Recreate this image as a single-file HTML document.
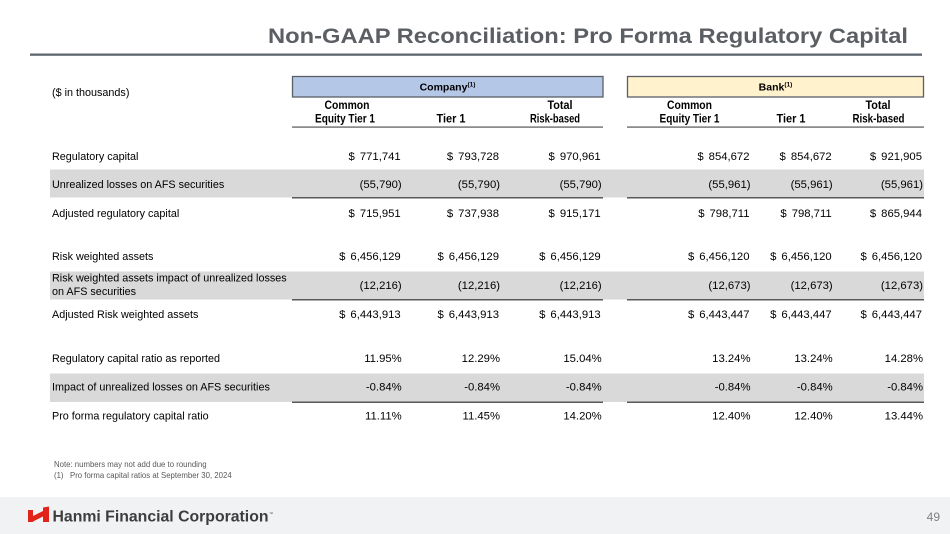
<!DOCTYPE html>
<html>
<head>
<meta charset="utf-8">
<style>
html,body{margin:0;padding:0;background:#fff;}
svg{display:block;}
text{font-family:"Liberation Sans",Arial,sans-serif;}
.lbl{font-size:10.8px;fill:#000;}
.num{font-size:11.3px;fill:#000;text-anchor:end;}
.hdr{font-size:11.5px;font-weight:bold;fill:#000;text-anchor:middle;}
</style>
</head>
<body>
<svg width="950" height="534" viewBox="0 0 950 534" xmlns="http://www.w3.org/2000/svg">
  <rect x="0" y="0" width="950" height="534" fill="#ffffff"/>
  <!-- Title -->
  <text x="268" y="43" font-size="21.5" font-weight="bold" fill="#5b5e63" textLength="640" lengthAdjust="spacingAndGlyphs">Non-GAAP Reconciliation: Pro Forma Regulatory Capital</text>
  <rect x="30" y="53.5" width="892" height="2.3" fill="#5f6670"/>

  <!-- ($ in thousands) -->
  <text class="lbl" x="52" y="96">($ in thousands)</text>

  <!-- Header boxes -->
  <rect x="292.5" y="76.5" width="310.5" height="20.5" fill="#b4c7e7" stroke="#5a5f66" stroke-width="1.3"/>
  <text x="447.5" y="90.5" font-size="10.5" font-weight="bold" fill="#000" text-anchor="middle">Company<tspan font-size="6.5" dy="-4">(1)</tspan></text>
  <rect x="627.5" y="76.5" width="296" height="20.5" fill="#fff2cc" stroke="#5a5f66" stroke-width="1.3"/>
  <text x="775.5" y="90.5" font-size="10.5" font-weight="bold" fill="#000" text-anchor="middle">Bank<tspan font-size="6.5" dy="-4">(1)</tspan></text>

  <!-- Column headers -->
  <text class="hdr" x="347" y="109" textLength="45" lengthAdjust="spacingAndGlyphs">Common</text>
  <text class="hdr" x="345" y="122.5" textLength="60" lengthAdjust="spacingAndGlyphs">Equity Tier 1</text>
  <text class="hdr" x="451" y="122.5" textLength="29" lengthAdjust="spacingAndGlyphs">Tier 1</text>
  <text class="hdr" x="560" y="109" textLength="25" lengthAdjust="spacingAndGlyphs">Total</text>
  <text class="hdr" x="555" y="122.5" textLength="50" lengthAdjust="spacingAndGlyphs">Risk-based</text>

  <text class="hdr" x="689.5" y="109" textLength="45" lengthAdjust="spacingAndGlyphs">Common</text>
  <text class="hdr" x="689.5" y="122.5" textLength="60" lengthAdjust="spacingAndGlyphs">Equity Tier 1</text>
  <text class="hdr" x="791" y="122.5" textLength="29" lengthAdjust="spacingAndGlyphs">Tier 1</text>
  <text class="hdr" x="878" y="109" textLength="25" lengthAdjust="spacingAndGlyphs">Total</text>
  <text class="hdr" x="878.5" y="122.5" textLength="52" lengthAdjust="spacingAndGlyphs">Risk-based</text>

  <rect x="292" y="126.3" width="311" height="1.6" fill="#7f7f7f"/>
  <rect x="627" y="126.3" width="297" height="1.6" fill="#7f7f7f"/>

  <!-- Gray bands -->
  <rect x="50" y="169.5" width="874" height="28" fill="#d9d9d9"/>
  <rect x="50" y="271.5" width="874" height="28" fill="#d9d9d9"/>
  <rect x="50" y="373.5" width="874" height="28.5" fill="#d9d9d9"/>

  <!-- underline segments -->
  <rect x="292" y="197" width="311" height="1.5" fill="#595959"/>
  <rect x="627" y="197" width="297" height="1.5" fill="#595959"/>
  <rect x="292" y="299" width="311" height="1.5" fill="#595959"/>
  <rect x="627" y="299" width="297" height="1.5" fill="#595959"/>
  <rect x="292" y="401.5" width="311" height="1.5" fill="#595959"/>
  <rect x="627" y="401.5" width="297" height="1.5" fill="#595959"/>

  <!-- Row labels -->
  <text class="lbl" x="52" y="160">Regulatory capital</text>
  <text class="lbl" x="52" y="188">Unrealized losses on AFS securities</text>
  <text class="lbl" x="52" y="217">Adjusted regulatory capital</text>
  <text class="lbl" x="52" y="260">Risk weighted assets</text>
  <text class="lbl" x="52" y="281.5">Risk weighted assets impact of unrealized losses</text>
  <text class="lbl" x="52" y="295">on AFS securities</text>
  <text class="lbl" x="52" y="318">Adjusted Risk weighted assets</text>
  <text class="lbl" x="52" y="362">Regulatory capital ratio as reported</text>
  <text class="lbl" x="52" y="390.5">Impact of unrealized losses on AFS securities</text>
  <text class="lbl" x="52" y="419.5">Pro forma regulatory capital ratio</text>

  <!-- Company numbers -->
  <text class="num" x="400.7" y="160">$<tspan dx="5">771,741</tspan></text>
  <text class="num" x="499" y="160">$<tspan dx="5">793,728</tspan></text>
  <text class="num" x="600.7" y="160">$<tspan dx="5">970,961</tspan></text>
  <text class="num" x="401.7" y="188">(55,790)</text>
  <text class="num" x="500" y="188">(55,790)</text>
  <text class="num" x="601.7" y="188">(55,790)</text>
  <text class="num" x="400.7" y="217">$<tspan dx="5">715,951</tspan></text>
  <text class="num" x="499" y="217">$<tspan dx="5">737,938</tspan></text>
  <text class="num" x="600.7" y="217">$<tspan dx="5">915,171</tspan></text>
  <text class="num" x="400.7" y="260">$<tspan dx="5">6,456,129</tspan></text>
  <text class="num" x="499" y="260">$<tspan dx="5">6,456,129</tspan></text>
  <text class="num" x="600.7" y="260">$<tspan dx="5">6,456,129</tspan></text>
  <text class="num" x="401.7" y="289">(12,216)</text>
  <text class="num" x="500" y="289">(12,216)</text>
  <text class="num" x="601.7" y="289">(12,216)</text>
  <text class="num" x="400.7" y="318">$<tspan dx="5">6,443,913</tspan></text>
  <text class="num" x="499" y="318">$<tspan dx="5">6,443,913</tspan></text>
  <text class="num" x="600.7" y="318">$<tspan dx="5">6,443,913</tspan></text>
  <text class="num" x="401.7" y="362">11.95%</text>
  <text class="num" x="500" y="362">12.29%</text>
  <text class="num" x="601.7" y="362">15.04%</text>
  <text class="num" x="401.7" y="390.5">-0.84%</text>
  <text class="num" x="500" y="390.5">-0.84%</text>
  <text class="num" x="601.7" y="390.5">-0.84%</text>
  <text class="num" x="401.7" y="419.5">11.11%</text>
  <text class="num" x="500" y="419.5">11.45%</text>
  <text class="num" x="601.7" y="419.5">14.20%</text>

  <!-- Bank numbers -->
  <text class="num" x="749.5" y="160">$<tspan dx="5">854,672</tspan></text>
  <text class="num" x="831.7" y="160">$<tspan dx="5">854,672</tspan></text>
  <text class="num" x="922" y="160">$<tspan dx="5">921,905</tspan></text>
  <text class="num" x="750.5" y="188">(55,961)</text>
  <text class="num" x="832.7" y="188">(55,961)</text>
  <text class="num" x="923" y="188">(55,961)</text>
  <text class="num" x="749.5" y="217">$<tspan dx="5">798,711</tspan></text>
  <text class="num" x="831.7" y="217">$<tspan dx="5">798,711</tspan></text>
  <text class="num" x="922" y="217">$<tspan dx="5">865,944</tspan></text>
  <text class="num" x="749.5" y="260">$<tspan dx="5">6,456,120</tspan></text>
  <text class="num" x="831.7" y="260">$<tspan dx="5">6,456,120</tspan></text>
  <text class="num" x="922" y="260">$<tspan dx="5">6,456,120</tspan></text>
  <text class="num" x="750.5" y="289">(12,673)</text>
  <text class="num" x="832.7" y="289">(12,673)</text>
  <text class="num" x="923" y="289">(12,673)</text>
  <text class="num" x="749.5" y="318">$<tspan dx="5">6,443,447</tspan></text>
  <text class="num" x="831.7" y="318">$<tspan dx="5">6,443,447</tspan></text>
  <text class="num" x="922" y="318">$<tspan dx="5">6,443,447</tspan></text>
  <text class="num" x="750.5" y="362">13.24%</text>
  <text class="num" x="832.7" y="362">13.24%</text>
  <text class="num" x="923" y="362">14.28%</text>
  <text class="num" x="750.5" y="390.5">-0.84%</text>
  <text class="num" x="832.7" y="390.5">-0.84%</text>
  <text class="num" x="923" y="390.5">-0.84%</text>
  <text class="num" x="750.5" y="419.5">12.40%</text>
  <text class="num" x="832.7" y="419.5">12.40%</text>
  <text class="num" x="923" y="419.5">13.44%</text>

  <!-- Notes -->
  <text x="54" y="467" font-size="7.8" fill="#595959">Note: numbers may not add due to rounding</text>
  <text x="54" y="478" font-size="7.8" fill="#595959">(1)</text>
  <text x="70" y="478" font-size="7.8" fill="#595959">Pro forma capital ratios at September 30, 2024</text>

  <!-- Footer -->
  <rect x="0" y="497" width="950" height="37" fill="#f1f2f4"/>
  <path d="M28,510 L33,510 L33,516 L43,511 L43,507.5 L49,506.5 L49,522 L43,522 L43,516.5 L33,521.5 L33,522 L28,522 Z" fill="#e2231a"/>
  <text x="52.5" y="521.5" font-size="15.5" font-weight="bold" fill="#3d3d3d" textLength="216" lengthAdjust="spacingAndGlyphs">Hanmi Financial Corporation</text>
  <text x="269" y="515" font-size="4" fill="#3d3d3d">™</text>
  <text x="940" y="521" font-size="12" fill="#808080" text-anchor="end">49</text>
</svg>
</body>
</html>
